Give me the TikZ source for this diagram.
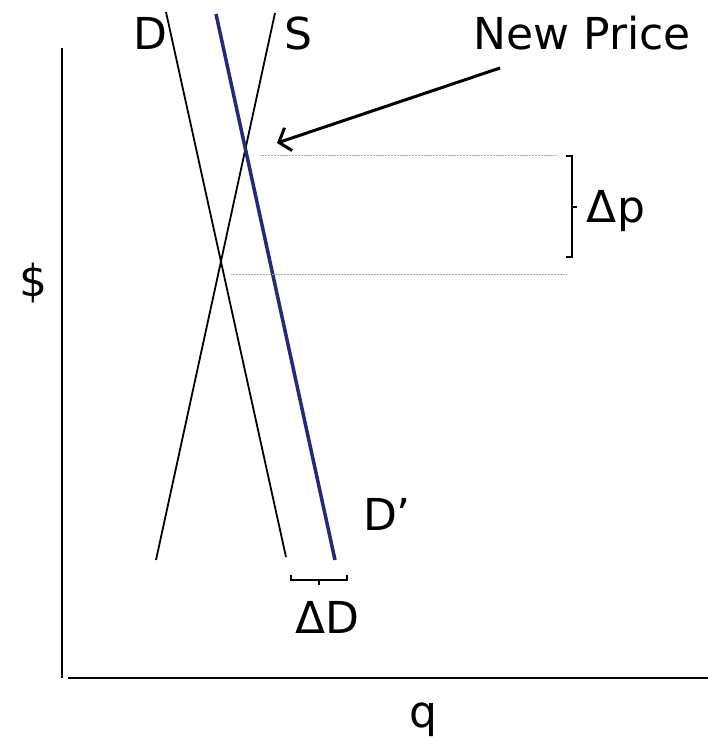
\documentclass[tikz,border=0pt]{standalone}
\usepackage{fontspec}
\setmainfont{DejaVu Sans}
\definecolor{navyline}{RGB}{40,40,120}
\usetikzlibrary{arrows.meta}
\tikzset{
  lbl/.style={font=\fontsize{44}{48}\selectfont, inner sep=0pt},
  curve/.style={line width=1.8pt, black},
  shifted/.style={line width=3.5pt, navyline},
  guide/.style={line width=0.7pt, gray!70, dash pattern=on 1pt off 0.5pt},
  brk/.style={line width=1.8pt, black},
  pointer/.style={line width=3pt, black, -{Straight Barb[length=10pt,width=24pt,line width=3pt]}}
}
\begin{document}
\begin{tikzpicture}[x=1pt,y=-1pt]
\useasboundingbox (0,0) rectangle (708,748);
% axes
\coordinate (ytop) at (62,48);
\coordinate (ybot) at (62,678);
\coordinate (xl) at (68,678);
\coordinate (xr) at (708,678);
\draw[line width=1.8pt] (ytop) -- (ybot);
\draw[line width=1.8pt] (xl) -- (xr);
% curves
\coordinate (Dt) at (166,12);
\coordinate (Db) at (286,557);
\coordinate (St) at (275,13);
\coordinate (Sb) at (156,560);
\coordinate (Npt) at (216,14);
\coordinate (Npb) at (335,560);
\draw[curve] (Dt) -- (Db);
\draw[curve] (St) -- (Sb);
\draw[shifted] (Npt) -- (Npb);
% guide lines
\coordinate (g1a) at (260,155);
\coordinate (g1b) at (557,155);
\coordinate (g2a) at (231,274);
\coordinate (g2b) at (567,274);
\draw[guide] (g1a) -- (g1b);
\draw[guide] (g2a) -- (g2b);
% delta p bracket
\coordinate (b1) at (566,156);
\coordinate (b2) at (566,257);
\draw[brk] (b1) -- (572,156) -- (572,257) -- (b2);
\draw[brk] (572,207) -- (577,207);
% delta D bracket
\draw[brk] (291,575) -- (291,580) -- (347,580) -- (347,575);
\draw[brk] (319,580) -- (319,585);
% labels
\node[lbl] (labD) at (150,33) {D};
\node[lbl] (labS) at (298,33) {S};
\node[lbl] (labNP) at (582,33) {New Price};
\node[lbl] (labDp) at (387,514) {D’};
\node[lbl] (labdD) at (327,617) {ΔD};
\node[lbl] (labdp) at (616,211) {Δp};
\node[lbl] (labq) at (423,720) {q};
\node[lbl] (labd) at (33,283) {\$};
% arrow
\coordinate (aS) at (500,68);
\coordinate (aE) at (277,143);
\draw[pointer] (aS) -- (aE);
\end{tikzpicture}
\end{document}
